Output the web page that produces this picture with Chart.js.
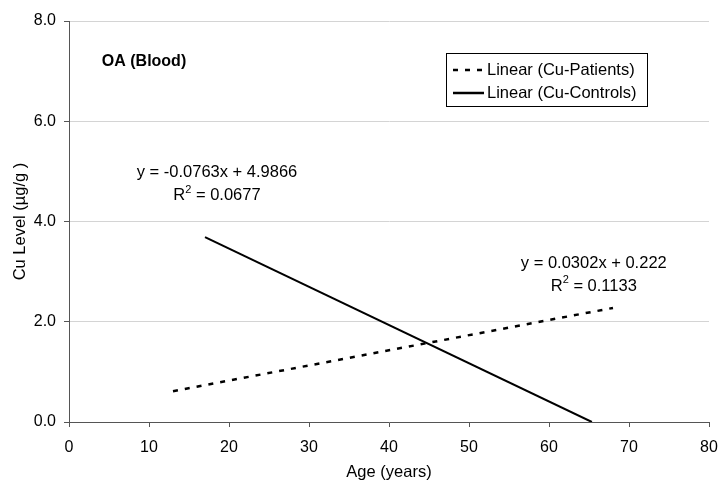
<!DOCTYPE html>
<html>
<head>
<meta charset="utf-8">
<script src="https://cdn.jsdelivr.net/npm/chart.js@4"></script>
<style>
  body { margin: 0; background: #fff; }
  canvas { display: block; }
</style>
</head>
<body>
<canvas id="chart" width="718" height="481"></canvas>
<script>
// trend lines (x = age, y = Cu level)
const seriesNames = ['Linear (Cu-Patients)', 'Linear (Cu-Controls)'];
const patientsX = [13, 68];
const patientsY = [0.615, 2.276];
const controlsX = [17, 65.36];
const controlsY = [3.69, 0];

const xTicks = [0, 10, 20, 30, 40, 50, 60, 70, 80];
const yTicks = [0, 2, 4, 6, 8];

// notes on the plot, placed in data units
const notes = [
    { x: 4.1, y: 7.19, text: 'OA (Blood)', bold: true, align: 'left' },
    { x: 18.5, y: 4.97, text: 'y = -0.0763x + 4.9866', align: 'center' },
    { x: 18.5, y: 4.51, r2: '0.0677', align: 'center' },
    { x: 65.6, y: 3.17, text: 'y = 0.0302x + 0.222', align: 'center' },
    { x: 65.6, y: 2.71, r2: '0.1133', align: 'center' }
];

const FONT = '"Liberation Sans", Arial, sans-serif';
const TXT = 16.5;

function toPoints(xs, ys) {
    return xs.map((x, i) => ({ x: x, y: ys[i] }));
}

// text notes + the boxed legend
const notesPlugin = {
    id: 'notes',
    afterDraw(chart) {
        const ctx = chart.ctx;
        const xs = chart.scales.x;
        const ys = chart.scales.y;
        ctx.save();
        ctx.fillStyle = '#000';
        ctx.textBaseline = 'middle';
        for (const n of notes) {
            const px = xs.getPixelForValue(n.x);
            const py = ys.getPixelForValue(n.y);
            if (n.r2) {
                ctx.font = TXT + 'px ' + FONT;
                const rest = ' = ' + n.r2;
                const wR = ctx.measureText('R').width;
                const wRest = ctx.measureText(rest).width;
                ctx.font = '11px ' + FONT;
                const w2 = ctx.measureText('2').width;
                let x0 = px - (wR + w2 + wRest) / 2;
                ctx.textAlign = 'left';
                ctx.font = TXT + 'px ' + FONT;
                ctx.fillText('R', x0, py);
                ctx.font = '11px ' + FONT;
                ctx.fillText('2', x0 + wR, py - 6);
                ctx.font = TXT + 'px ' + FONT;
                ctx.fillText(rest, x0 + wR + w2, py);
            } else {
                ctx.font = (n.bold ? 'bold 16px ' : TXT + 'px ') + FONT;
                ctx.textAlign = n.align;
                ctx.fillText(n.text, px, py);
            }
        }

        // legend
        const lx = 446, ly = 53, lw = 201, lh = 53;
        ctx.strokeStyle = '#000';
        ctx.lineWidth = 1;
        ctx.setLineDash([]);
        ctx.fillStyle = '#fff';
        ctx.fillRect(lx + 0.5, ly + 0.5, lw, lh);
        ctx.strokeRect(lx + 0.5, ly + 0.5, lw, lh);
        chart.data.datasets.forEach((ds, i) => {
            const y = ly + 17 + i * 23;
            ctx.beginPath();
            ctx.lineWidth = 2.5;
            ctx.setLineDash(ds.borderDash || []);
            ctx.moveTo(453, y);
            ctx.lineTo(484, y);
            ctx.stroke();
            ctx.setLineDash([]);
            ctx.fillStyle = '#000';
            ctx.font = TXT + 'px ' + FONT;
            ctx.textAlign = 'left';
            ctx.fillText(ds.label, 487, y);
        });
        ctx.restore();
    }
};

const ctx = document.getElementById('chart').getContext('2d');
new Chart(ctx, {
    type: 'scatter',
    data: {
        datasets: [
            {
                label: seriesNames[0],
                data: toPoints(patientsX, patientsY),
                showLine: true,
                borderColor: '#000',
                borderWidth: 2.5,
                borderDash: [5, 7],
                pointRadius: 0
            },
            {
                label: seriesNames[1],
                data: toPoints(controlsX, controlsY),
                showLine: true,
                borderColor: '#000',
                borderWidth: 2,
                pointRadius: 0
            }
        ]
    },
    options: {
        responsive: false,
        animation: false,
        layout: { padding: { top: 21, right: 9, left: 0, bottom: 0 } },
        plugins: {
            legend: { display: false },
            tooltip: { enabled: false }
        },
        scales: {
            x: {
                type: 'linear',
                min: 0,
                max: 80,
                afterFit(scale) {
                    scale.height = 59;
                    scale.paddingLeft = 0;
                    scale.paddingRight = 0;
                },
                afterBuildTicks(scale) { scale.ticks = xTicks.map(v => ({ value: v })); },
                grid: { drawOnChartArea: false, drawTicks: true, tickLength: 5, tickColor: '#555' },
                border: { color: '#555', width: 1 },
                ticks: {
                    color: '#000',
                    padding: 11,
                    maxRotation: 0,
                    font: { family: FONT, size: 16 },
                    callback: v => String(v)
                },
                title: {
                    display: true,
                    text: 'Age (years)',
                    color: '#000',
                    padding: { top: 0, bottom: 0 },
                    font: { family: FONT, size: TXT, lineHeight: 1.0 }
                }
            },
            y: {
                type: 'linear',
                min: 0,
                max: 8,
                afterFit(scale) {
                    scale.width = 69;
                    scale.paddingTop = 0;
                    scale.paddingBottom = 0;
                },
                afterBuildTicks(scale) { scale.ticks = yTicks.map(v => ({ value: v })); },
                grid: { color: '#d4d4d4', tickLength: 5, tickColor: '#555' },
                border: { color: '#555', width: 1 },
                ticks: {
                    color: '#000',
                    padding: 8,
                    font: { family: FONT, size: 16 },
                    callback: v => v.toFixed(1)
                },
                title: {
                    display: true,
                    text: 'Cu Level (µg/g )',
                    color: '#000',
                    padding: { top: 11, bottom: 0 },
                    font: { family: FONT, size: TXT }
                }
            }
        }
    },
    plugins: [notesPlugin]
});
</script>
</body>
</html>
